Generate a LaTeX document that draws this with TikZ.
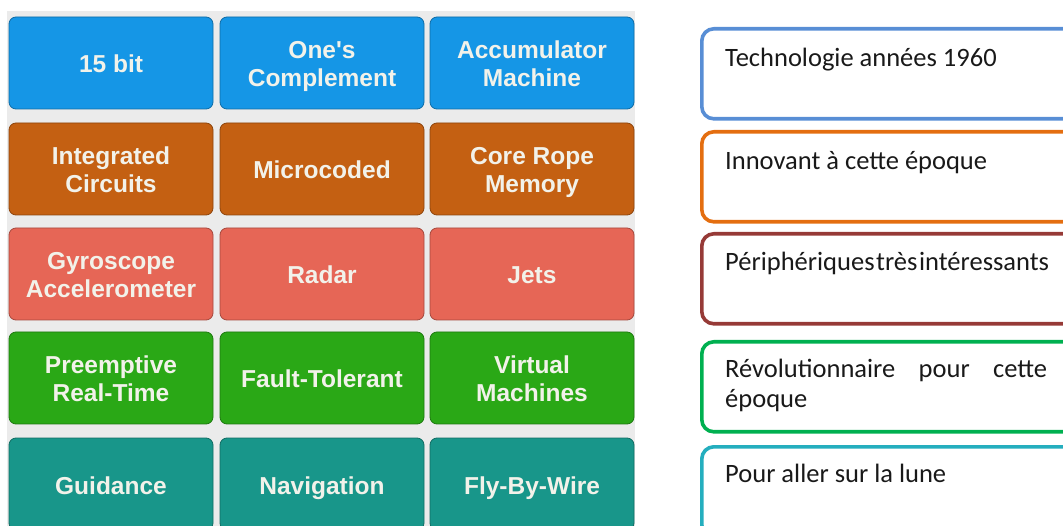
\documentclass[tikz,border=0pt]{standalone}
\usepackage{fontspec}
\setmainfont{Carlito}
\newfontfamily\tilefont{Liberation Sans}
\definecolor{bggray}{RGB}{235,235,235}
\definecolor{tiletext}{RGB}{242,242,234}
\definecolor{blueT}{RGB}{21,150,230}
\definecolor{orangeT}{RGB}{196,96,18}
\definecolor{salmonT}{RGB}{230,102,86}
\definecolor{greenT}{RGB}{42,168,22}
\definecolor{tealT}{RGB}{24,150,138}
\definecolor{cBlue}{RGB}{88,142,213}
\definecolor{cOrange}{RGB}{228,110,16}
\definecolor{cRed}{RGB}{150,58,55}
\definecolor{cGreen}{RGB}{0,176,80}
\definecolor{cTeal}{RGB}{36,174,190}
\definecolor{cText}{RGB}{25,25,25}
\newcommand\tilestrut{\rule[-6pt]{0pt}{32pt}}
\newcommand\tilepair[2]{\raisebox{-4pt}[\height][\depth]{\lineskiplimit=0pt\lineskip=0pt\begin{tabular}{@{}c@{}}#1\\#2\end{tabular}}}
\begin{document}
\begin{tikzpicture}[x=1pt,y=-1pt,
  tile/.style={draw=#1!72!black, fill=#1, rounded corners=7pt,
    minimum width=204pt, minimum height=92pt, line width=0.8pt,
    text=tiletext, font=\tilefont\bfseries\fontsize{24.5}{28}\selectfont,
    align=center, inner sep=0pt,
    execute at begin node={\lineskiplimit=-50pt\lineskip=0pt\tilestrut},
    execute at end node=\tilestrut},
  card/.style={draw=#1, line width=3.6pt, rounded corners=12pt,
    minimum width=392pt, minimum height=90pt, anchor=north west, inner sep=0pt},
  cardtext/.style={anchor=base west, font=\fontsize{26.5}{30}\selectfont,
    text=cText, inner sep=0pt, align=left}]
\useasboundingbox (0,0) rectangle (1063,526);
\clip (0,0) rectangle (1063,526);
\fill[bggray] (7,11) rectangle (635,530);
% row 1
\node[tile=blueT] (a1) at (111,63) {15 bit};
\node[tile=blueT] (a2) at (322,63) {\tilepair{One's}{Complement}};
\node[tile=blueT] (a3) at (532,63) {\tilepair{Accumulator}{Machine}};
% row 2
\node[tile=orangeT] (b1) at (111,169) {\tilepair{Integrated}{Circuits}};
\node[tile=orangeT] (b2) at (322,169) {Microcoded};
\node[tile=orangeT] (b3) at (532,169) {\tilepair{Core Rope}{Memory}};
% row 3
\node[tile=salmonT] (c1) at (111,274) {\tilepair{Gyroscope}{Accelerometer}};
\node[tile=salmonT] (c2) at (322,274) {Radar};
\node[tile=salmonT] (c3) at (532,274) {Jets};
% row 4
\node[tile=greenT] (d1) at (111,378) {\tilepair{Preemptive}{Real-Time}};
\node[tile=greenT] (d2) at (322,378) {Fault-Tolerant};
\node[tile=greenT] (d3) at (532,378) {\tilepair{Virtual}{Machines}};
% row 5
\node[tile=tealT] (e1) at (111,484) {Guidance};
\node[tile=tealT] (e2) at (322,484) {Navigation};
\node[tile=tealT] (e3) at (532,484) {Fly-By-Wire};
% right cards
\node[card=cBlue] (r1) at (700,27) {};
\node[card=cOrange] (r2) at (700,130) {};
\node[card=cRed] (r3) at (700,232) {};
\node[card=cGreen] (r4) at (700,340) {};
\node[card=cTeal] (r5) at (700,445) {};
\node[cardtext] (t1) at (725,67) {Technologie années 1960};
\node[cardtext] (t2) at (725,170) {Innovant à cette époque};
\node[cardtext] (t3) at (725,271) {\spaceskip=0.16em plus 2em minus 0.1em\makebox[322pt][s]{Périphériques très intéressants}};
\node[cardtext] (t4) at (725,408) {\makebox[322pt][s]{Révolutionnaire pour cette}\\époque};
\node[cardtext] (t5) at (725,482) {Pour aller sur la lune};
\end{tikzpicture}
\end{document}
